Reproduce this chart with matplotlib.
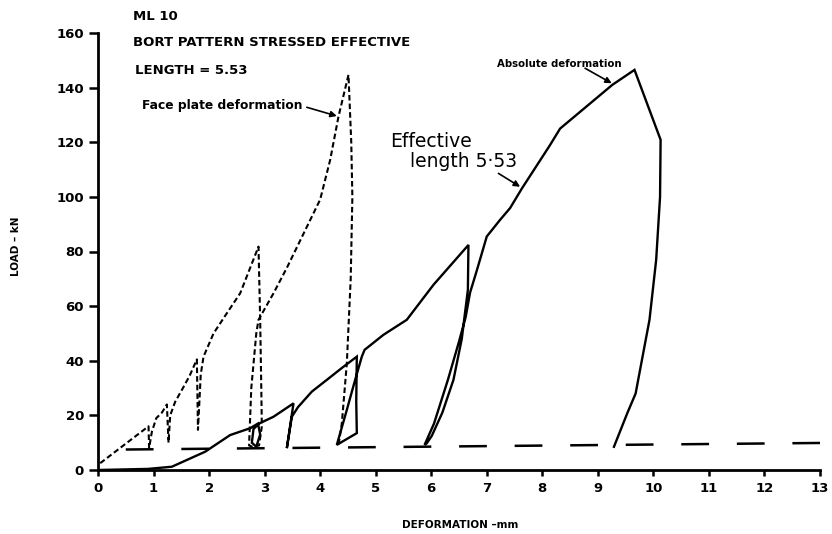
import numpy as np
import matplotlib
matplotlib.use("Agg")
import matplotlib.pyplot as plt

plt.rcParams['font.family'] = ['DejaVu Sans']
plt.rcParams['lines.scale_dashes'] = False

# Face plate deformation (dashed curve), mm / kN
face_x = [0.04, 0.91, 0.92, 0.97, 1.05, 1.15, 1.24, 1.27, 1.30, 1.39, 1.51, 1.65, 1.78,
          1.80, 1.85, 1.90, 2.08, 2.32, 2.56, 2.89, 2.92, 2.94, 2.95, 2.90, 2.78, 2.72,
          2.76, 2.85, 2.89, 3.16, 3.40, 3.64, 4.00, 4.18, 4.33, 4.51, 4.56, 4.58, 4.55,
          4.48, 4.39, 4.33]
face_y = [2.5, 16.0, 8.0, 14.0, 19.0, 21.0, 24.0, 10.0, 20.0, 25.0, 29.3, 34.5, 40.5,
          14.7, 35.0, 41.5, 50.0, 57.4, 64.7, 81.8, 55.0, 30.0, 16.0, 9.0, 8.5, 9.0,
          30.0, 50.0, 55.0, 64.7, 74.0, 84.0, 99.0, 113.5, 129.4, 144.7, 120.0, 100.0, 70.0,
          39.0, 17.0, 9.0]

# Absolute deformation (solid curve)
abs_x = [0.0, 0.9, 1.33, 1.93, 2.38, 2.74, 2.88, 2.92, 2.85, 2.77, 2.80, 2.90, 3.16,
         3.52, 3.40, 3.49, 3.60, 3.85, 4.12, 4.40, 4.66, 4.65, 4.66, 4.30, 4.48, 4.63,
         4.75, 4.80, 5.14, 5.56, 6.04, 6.67, 6.66, 6.55, 6.40, 6.20, 6.01, 5.92, 5.88,
         6.05, 6.30, 6.50, 6.62, 6.70, 6.82, 7.00, 7.24, 7.42, 7.63, 8.14, 8.32, 9.26,
         9.66, 10.13, 10.12, 10.05, 9.93, 9.68, 9.53, 9.29]
abs_y = [0.0, 0.4, 1.2, 6.7, 12.8, 15.3, 17.0, 13.0, 8.5, 10.0, 15.0, 17.0, 19.5,
         24.4, 8.0, 19.5, 23.0, 28.7, 33.0, 37.5, 41.5, 25.0, 13.5, 9.2, 22.0, 33.0,
         41.5, 44.0, 49.5, 55.0, 67.8, 82.4, 66.0, 48.0, 33.0, 21.0, 12.5, 9.8, 9.2,
         17.0, 33.0, 47.0, 56.0, 65.0, 73.0, 85.5, 91.6, 95.9, 103.0, 119.0, 125.0, 141.0,
         146.5, 120.9, 100.0, 76.9, 55.0, 28.0, 20.8, 8.5]

# long-dash base line
base_x = [0.5, 13.0]
base_y = [7.5, 9.9]

x_ticks = list(range(0, 14))
y_ticks = list(range(0, 161, 20))

fig = plt.figure(figsize=(8.32, 5.34), dpi=100)
ax = fig.add_axes([98 / 832, 1 - 470 / 534, (820 - 98) / 832, (470 - 33) / 534])

ax.plot(face_x, face_y, color='black', lw=1.5, linestyle=(0, (4, 2.2)))
ax.plot(abs_x, abs_y, color='black', lw=1.7, solid_joinstyle='miter')
ax.plot(base_x, base_y, color='black', lw=1.8, linestyle=(0, (20, 20)))

ax.set_xlim(0, 13)
ax.set_ylim(0, 160)
ax.set_xticks(x_ticks)
ax.set_yticks(y_ticks)
ax.spines['top'].set_visible(False)
ax.spines['right'].set_visible(False)
ax.spines['left'].set_linewidth(2.0)
ax.spines['bottom'].set_linewidth(2.0)
ax.tick_params(axis='x', direction='out', length=4.5, width=1.8, pad=4, labelsize=9.5)
ax.tick_params(axis='y', direction='out', length=6.5, width=1.8, pad=3.5, labelsize=9.5)
for lbl in ax.get_xticklabels() + ax.get_yticklabels():
    lbl.set_fontweight('bold')

bold = dict(fontweight='bold', color='black')
fig.text(133 / 832, 1 - 17 / 534, "ML 10", fontsize=9.5, va='center', **bold)
fig.text(133 / 832, 1 - 42 / 534, "BORT PATTERN STRESSED EFFECTIVE", fontsize=9.5, va='center', **bold)
fig.text(135 / 832, 1 - 70 / 534, "LENGTH = 5.53", fontsize=9.5, va='center', **bold)
fig.text(0.019, 0.539, "LOAD \u2013 kN", rotation=90, fontsize=7.5, va='center', ha='center', **bold)
fig.text(0.553, 0.016, "DEFORMATION \u2013mm", fontsize=7.5, va='center', ha='center', **bold)

arrow = dict(arrowstyle='-|>', color='black', lw=1.2, mutation_scale=9, shrinkA=0, shrinkB=0)
ax.annotate("Face plate deformation", xy=(4.30, 129.6), xytext=(0.80, 133.5),
            fontsize=8.8, va='center', ha='left', **bold)
ax.annotate("", xy=(4.30, 129.6), xytext=(3.76, 132.8), arrowprops=arrow)
ax.annotate("Absolute deformation", xy=(9.25, 141.6), xytext=(7.19, 148.5),
            fontsize=7.3, va='center', ha='left', **bold)
ax.annotate("", xy=(9.25, 141.6), xytext=(8.77, 147.1), arrowprops=arrow)
ax.text(5.26, 120.2, "Effective", fontsize=13.5, va='center', ha='left')
ax.text(5.61, 113.0, "length 5\u00b753", fontsize=13.5, va='center', ha='left')
ax.annotate("", xy=(7.60, 103.7), xytext=(7.21, 108.6), arrowprops=arrow)

fig.savefig("out.png", dpi=100)
